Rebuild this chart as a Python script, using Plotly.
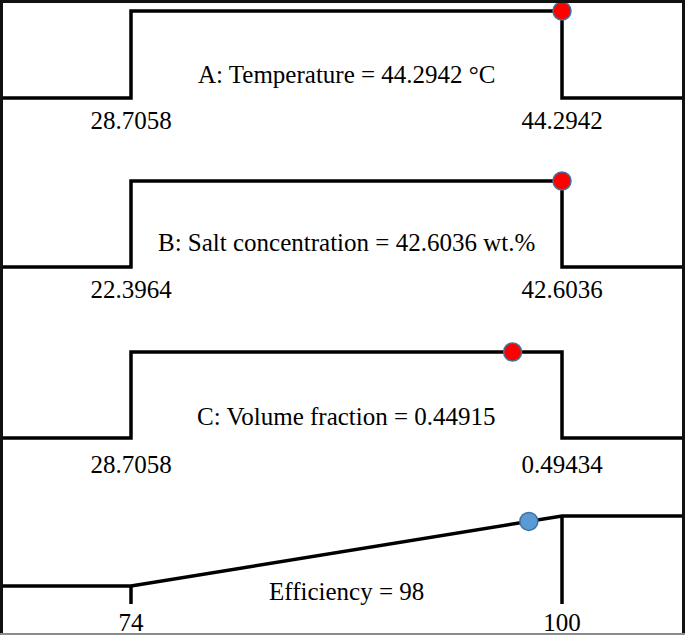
import plotly.graph_objects as go

# desirability ramps (one panel per factor / response)
panel_labels = [
    "A: Temperature = 44.2942 °C",
    "B: Salt concentration = 42.6036 wt.%",
    "C: Volume fraction = 0.44915",
    "Efficiency = 98",
]
low_values = [28.7058, 22.3964, 0.1, 74]
high_values = [44.2942, 42.6036, 0.49434, 100]
low_tick_labels = ["28.7058", "22.3964", "28.7058", "74"]
high_tick_labels = ["44.2942", "42.6036", "0.49434", "100"]
current_values = [44.2942, 42.6036, 0.44915, 98]
desirability = [1, 1, 1, 0.923]
goal = ["range", "range", "range", "max"]
dot_colors = ["#FF0000", "#FF0000", "#FF0000", "#5B9BD5"]

# page geometry (pixels)
W, H = 685, 635
X_LOW_PX, X_HIGH_PX = 131, 562
high_px = [11, 181, 352, 516]
low_px = [98, 267, 438, 586]
label_px = [75, 243, 416, 591]
pad_below = [5, 5, 5, 19]   # room under the zero line so lines aren't clipped
pad_above = 6
standoff = [0, 0, 4, 0]
TICK_PX = 18  # length of the little ticks under the response ramp

FONT = "Liberation Serif"

fig = go.Figure()
layout_axes = {}
annotations = []

for i in range(4):
    n = "" if i == 0 else str(i + 1)
    xa, ya = "x" + n, "y" + n
    lo, hi = low_values[i], high_values[i]
    per_px = (hi - lo) / (X_HIGH_PX - X_LOW_PX)
    r0 = lo - X_LOW_PX * per_px
    r1 = hi + (W - X_HIGH_PX) * per_px
    span_px = low_px[i] - high_px[i]

    if goal[i] == "range":
        xs = [r0, lo, lo, hi, hi, r1]
        ys = [0, 0, 1, 1, 0, 0]
    else:
        tick = -TICK_PX / span_px
        xs = [r0, lo, hi, r1, None, hi, hi, None, lo, lo]
        ys = [0, 0, 1, 1, None, 1, tick, None, 0, tick]

    fig.add_trace(go.Scatter(
        x=xs, y=ys, mode="lines", xaxis=xa, yaxis=ya,
        line=dict(color="black", width=3.5), cliponaxis=False,
        hoverinfo="skip", showlegend=False,
    ))
    fig.add_trace(go.Scatter(
        x=[current_values[i]], y=[desirability[i]], mode="markers",
        xaxis=xa, yaxis=ya, cliponaxis=False, showlegend=False,
        marker=dict(size=18, color=dot_colors[i],
                    line=dict(color="#41719C", width=1.5)),
    ))

    layout_axes["xaxis" + n] = dict(
        domain=[0, 1], anchor=ya, range=[r0, r1],
        tickvals=[lo, hi], ticktext=[low_tick_labels[i], high_tick_labels[i]],
        showgrid=False, zeroline=False, showline=False, ticks="",
        ticklabelstandoff=standoff[i],
        tickfont=dict(family=FONT, size=25, color="black"),
        fixedrange=True,
    )
    bottom_px = low_px[i] + pad_below[i]
    top_px = high_px[i] - pad_above
    layout_axes["yaxis" + n] = dict(
        domain=[1 - bottom_px / H, 1 - top_px / H], anchor=xa,
        range=[-pad_below[i] / span_px, 1 + pad_above / span_px],
        visible=False, fixedrange=True,
    )
    annotations.append(dict(
        xref=xa, yref=ya, x=(lo + hi) / 2,
        y=(low_px[i] - label_px[i]) / span_px,
        text=panel_labels[i], showarrow=False, yanchor="middle",
        font=dict(family=FONT, size=25, color="black"),
    ))

# frame around the picture
shapes = [
    dict(type="rect", xref="paper", yref="paper", x0=0, x1=1, y0=1 - 3 / H, y1=1,
         fillcolor="#111111", line_width=0),
    dict(type="rect", xref="paper", yref="paper", x0=0, x1=3 / W, y0=0, y1=1,
         fillcolor="#111111", line_width=0),
    dict(type="rect", xref="paper", yref="paper", x0=1 - 3 / W, x1=1, y0=0, y1=1,
         fillcolor="#111111", line_width=0),
    dict(type="rect", xref="paper", yref="paper", x0=0, x1=1, y0=0, y1=2 / H,
         fillcolor="#8c8c8c", line_width=0),
]

fig.update_layout(
    width=W, height=H,
    margin=dict(l=0, r=0, t=0, b=0),
    paper_bgcolor="white", plot_bgcolor="white",
    showlegend=False, hovermode=False,
    annotations=annotations, shapes=shapes,
    **layout_axes,
)

# page body has a default 8px margin; drop it so the figure fills the window
fig.write_html("out.html", config={"displayModeBar": False},
               post_script="document.body.style.margin='0px';")
